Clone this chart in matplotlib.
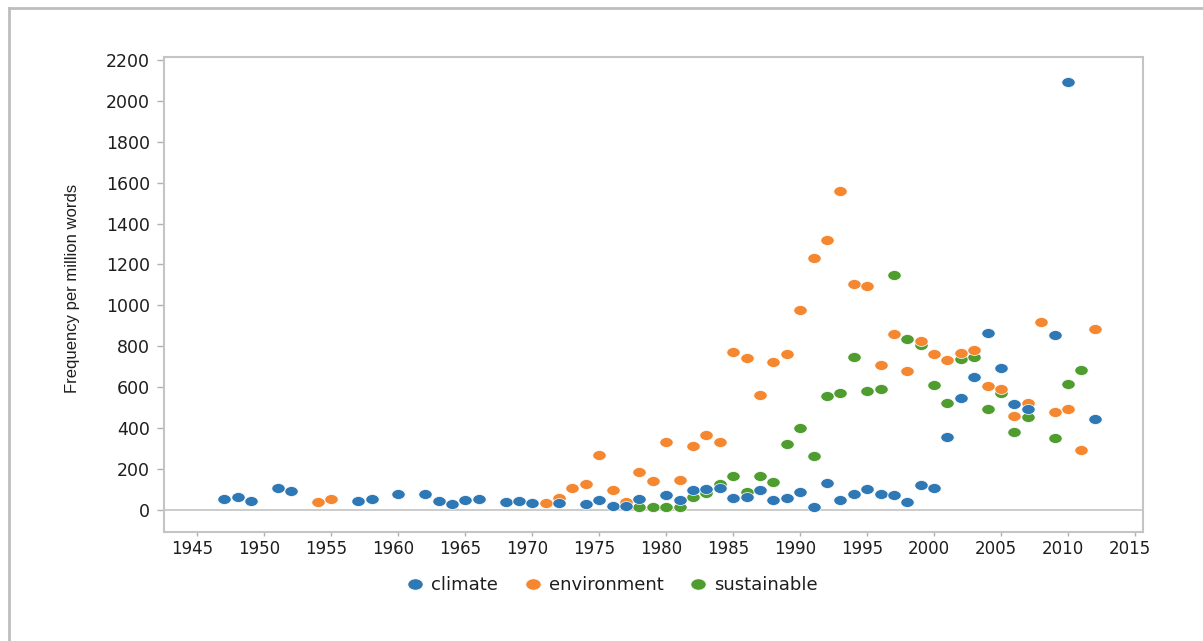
import matplotlib
matplotlib.use('Agg')
from matplotlib import pyplot as plt
from matplotlib.path import Path
from matplotlib.lines import Line2D
import numpy as np

# Data (frequency per million words)
climate_years = [1947, 1948, 1949, 1951, 1952, 1957, 1958, 1960, 1962, 1963,
                 1964, 1965, 1966, 1968, 1969, 1970, 1972, 1974, 1975, 1976,
                 1977, 1978, 1980, 1981, 1982, 1983, 1984, 1985, 1986, 1987,
                 1988, 1989, 1990, 1991, 1992, 1993, 1994, 1995, 1996, 1997,
                 1998, 1999, 2000, 2001, 2002, 2003, 2004, 2005, 2006, 2007,
                 2009, 2010, 2012]
climate = [54, 62, 44, 109, 94, 42, 55, 78, 77, 42,
           29, 50, 55, 37, 44, 33, 33, 28, 47, 21,
           20, 52, 75, 47, 95, 101, 109, 60, 65, 98,
           47, 60, 86, 13, 132, 50, 77, 104, 78, 73,
           37, 122, 106, 354, 549, 650, 867, 696, 520, 492,
           854, 2092, 443]

environment_years = [1954, 1955] + list(range(1971, 2013))
environment = [37, 52,
               36, 57, 108, 129, 269, 95, 41, 183, 140, 334,
               147, 310, 365, 334, 773, 745, 561, 722, 760, 978,
               1233, 1320, 1561, 1105, 1095, 706, 862, 680, 826, 761,
               732, 766, 782, 606, 590, 461, 525, 921, 479, 492,
               293, 885]

sustainable_years = list(range(1978, 2008)) + [2009, 2010, 2011]
sustainable = [16, 15, 15, 15, 64, 83, 127, 166, 86, 166,
               134, 321, 399, 264, 559, 570, 748, 583, 590, 1147,
               834, 805, 613, 521, 740, 747, 492, 570, 380, 456,
               350, 616, 684]

x_ticks = list(range(1945, 2016, 5))
y_ticks = list(range(0, 2201, 200))

BLUE = '#2f78b6'
ORANGE = '#f4872f'
GREEN = '#4f9c2f'

# slightly flattened dot, like the reference
t = np.linspace(0, 2 * np.pi, 41)
ellipse = Path(np.column_stack([np.cos(t), 0.74 * np.sin(t)]), closed=True)

fig = plt.figure(figsize=(12.03, 6.41), dpi=100)
ax = fig.add_axes([164 / 1203, 1 - 532 / 641, (1143 - 164) / 1203, (532 - 57) / 641])

ax.axhline(0, color='#c8c8c8', lw=1.3, zorder=1)

ax.scatter(sustainable_years, sustainable, s=92, marker=ellipse, color=GREEN,
           edgecolors='white', linewidths=0.5, zorder=3)
ax.scatter(environment_years, environment, s=92, marker=ellipse, color=ORANGE,
           edgecolors='white', linewidths=0.5, zorder=4)
ax.scatter(climate_years, climate, s=92, marker=ellipse, color=BLUE,
           edgecolors='white', linewidths=0.5, zorder=5)

ax.set_xlim(1942.5, 2015.6)
ax.set_ylim(-108, 2214)
ax.set_xticks(x_ticks)
ax.set_yticks(y_ticks)

for s in ax.spines.values():
    s.set_color('#c4c4c4')
    s.set_linewidth(1.5)
ax.tick_params(axis='both', colors='#b0b0b0', labelcolor='#1e1e1e')
ax.tick_params(axis='y', length=5, width=1, pad=5, labelsize=12.5)
ax.tick_params(axis='x', length=3, width=1, pad=3, labelsize=12)

# x labels in the reference sit a bit left of their ticks
offset = matplotlib.transforms.ScaledTranslation(-5 / 100, 0, fig.dpi_scale_trans)
for lab in ax.get_xticklabels():
    lab.set_transform(lab.get_transform() + offset)

fig.text(73 / 1203, 1 - 288 / 641, 'Frequency per million words', rotation=90,
         ha='center', va='center', fontsize=12, color='#1e1e1e',
         family=['Liberation Sans', 'DejaVu Sans'])

handles = [Line2D([], [], ls='', marker=ellipse, ms=11, color=c, mec='white', mew=0.5)
           for c in (BLUE, ORANGE, GREEN)]
fig.legend(handles, ['climate', 'environment', 'sustainable'], ncol=3,
           loc='center', bbox_to_anchor=(612 / 1203, 1 - 585 / 641),
           frameon=False, fontsize=13, handlelength=1.0, handletextpad=0.4,
           columnspacing=1.4, labelcolor='#1e1e1e')

# light frame along the top and left edge of the picture
fig.add_artist(Line2D([9 / 1203, 9 / 1203], [0, 1 - 8 / 641], color='#bdbdbd', lw=2))
fig.add_artist(Line2D([9 / 1203, 1], [1 - 8 / 641, 1 - 8 / 641], color='#bdbdbd', lw=2))

plt.savefig('out.png', dpi=100)
